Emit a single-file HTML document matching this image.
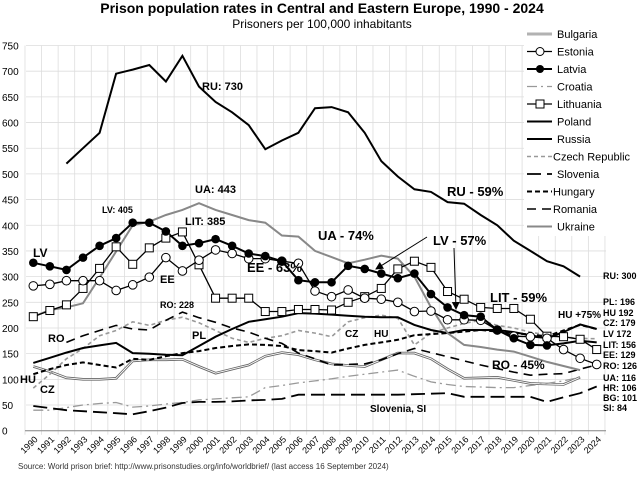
<!DOCTYPE html><html><head><meta charset="utf-8"><style>
body{margin:0;background:#fff;width:644px;height:474px;overflow:hidden}
svg{font-family:"Liberation Sans",Arial,sans-serif}
</style></head><body>
<svg id="s" width="644" height="474" xmlns="http://www.w3.org/2000/svg"></svg>
<script>
const s=document.getElementById('s');let h='';
const X=i=>33.3+i*16.57, Y=v=>430.7-v*0.5136;
h+=`<text x="322" y="13" font-size="14" font-weight="bold" text-anchor="middle">Prison population rates in Central and Eastern Europe, 1990 - 2024</text>`;
h+=`<text x="322" y="28" font-size="12" text-anchor="middle">Prisoners per 100,000 inhabitants</text>`;
for(let v=0;v<=750;v+=50){h+=`<line x1="26" x2="606" y1="${Y(v)}" y2="${Y(v)}" stroke="#ddd" stroke-width="0.8"/><text x="2" y="${Y(v)+4}" font-size="10">${v}</text>`;}
for(let i=0;i<=35;i++){h+=`<line x1="${25+i*16.57}" x2="${25+i*16.57}" y1="${Y(750)}" y2="${Y(0)+4}" stroke="#ddd" stroke-width="0.8"/>`;}
h+=`<line x1="25" x2="606" y1="${Y(0)}" y2="${Y(0)}" stroke="#888"/>`;
for(let i=0;i<35;i++){h+=`<text transform="translate(${X(i)+5},440) rotate(-45)" font-size="9" text-anchor="end">${1990+i}</text>`;}
const D={
ru:[null,null,520,550,580,695,703,712,680,730,670,640,620,595,548,565,580,628,630,620,580,525,495,470,465,445,442,420,400,370,350,330,320,300],
ua:[222,235,240,248,298,349,400,407,420,430,443,430,420,410,405,380,378,350,338,326,333,341,335,300,240,190,167,163,158,154,144,134,126,118],
lv:[327,320,313,337,360,375,405,405,388,360,365,373,360,345,340,330,293,289,289,321,315,306,297,306,266,240,225,222,196,180,167,166,170,175,172],
ee:[282,285,292,292,292,273,284,299,337,311,332,352,345,335,335,330,326,272,261,274,258,256,250,232,233,216,216,215,196,184,183,180,158,141,129],
lt:[222,234,245,277,316,358,324,356,375,387,323,258,258,258,232,232,236,236,235,250,261,277,315,330,318,271,256,240,238,238,217,184,183,178,158],
pl:[132,142,152,161,166,171,151,150,148,147,165,183,198,212,217,222,229,228,226,224,222,221,221,206,196,190,196,196,196,192,186,180,192,207,198],
hu:[110,120,128,133,128,123,140,138,145,151,155,161,165,168,167,165,157,155,152,160,167,172,177,186,188,190,193,196,193,190,187,184,195,206,198],
ro:[null,null,172,185,195,205,198,196,215,231,220,211,200,192,180,170,151,140,128,129,130,138,150,160,152,144,136,128,121,114,108,110,111,120,128],
cz:[83,110,140,160,185,195,212,205,215,221,210,195,180,172,180,185,195,190,183,212,220,225,219,167,190,200,209,215,205,200,192,186,182,180,179],
bg:[125,115,103,100,100,102,136,138,138,139,125,112,120,128,145,152,148,138,130,127,125,138,151,151,140,120,102,103,104,98,92,91,90,104],
hr:[40,40,45,50,53,55,46,48,52,55,60,62,64,66,84,88,93,97,101,106,110,114,118,106,95,90,86,85,84,84,88,92,97,104],
si:[48,44,40,38,36,34,32,38,45,54,56,56,57,59,60,62,70,70,70,70,70,70,70,71,72,73,66,66,66,66,66,56,65,73,86]};
const P=a=>{let d='',m=true;a.forEach((v,i)=>{if(v==null){m=true;return;}d+=(m?'M':'L')+X(i).toFixed(1)+','+Y(v).toFixed(1);m=false});return d;};
const st={ru:'stroke="#000" stroke-width="2"',ua:'stroke="#888" stroke-width="2"',pl:'stroke="#000" stroke-width="2"',
hu:'stroke="#000" stroke-width="2" stroke-dasharray="5,3"',ro:'stroke="#000" stroke-width="1.6" stroke-dasharray="9,6"',
cz:'stroke="#999" stroke-width="1.6" stroke-dasharray="4,3"',hr:'stroke="#999" stroke-width="1.3" stroke-dasharray="10,4,2,4"',
si:'stroke="#000" stroke-width="1.8" stroke-dasharray="14,6"',lv:'stroke="#000" stroke-width="2"',ee:'stroke="#000" stroke-width="1.3"',lt:'stroke="#000" stroke-width="1.3"'};
h+=`<path d="${P(D.bg)}" fill="none" stroke="#666" stroke-width="2.6"/><path d="${P(D.bg)}" fill="none" stroke="#fff" stroke-width="0.9"/>`;
['hr','si','cz','ro','hu','pl','ua','ru','lt','ee','lv'].forEach(k=>h+=`<path d="${P(D[k])}" fill="none" ${st[k]}/>`);
D.lt.forEach((v,i)=>{h+=`<rect x="${X(i)-4}" y="${Y(v)-4}" width="8" height="8" fill="#fff" stroke="#000"/>`});
D.ee.forEach((v,i)=>h+=`<circle cx="${X(i)}" cy="${Y(v)}" r="4.3" fill="#fff" stroke="#000"/>`);
D.lv.forEach((v,i)=>{if(i<32)h+=`<circle cx="${X(i)}" cy="${Y(v)}" r="4.3" fill="#000"/>`});
h+=`<rect x="524" y="26" width="82" height="210" fill="#fff"/>`;
const L=[['Bulgaria','bg'],['Estonia','ee'],['Latvia','lv'],['Croatia','hr'],['Lithuania','lt'],['Poland','pl'],['Russia','ru'],['Czech Republic','cz'],['Slovenia','si'],['Hungary','hu'],['Romania','ro'],['Ukraine','ua']];
L.forEach(([n,k],j)=>{const y=34+j*17.5;
 if(k=='bg')h+=`<line x1="527" x2="552" y1="${y}" y2="${y}" stroke="#666" stroke-width="2.6"/><line x1="527" x2="552" y1="${y}" y2="${y}" stroke="#fff" stroke-width="0.9"/>`;
 else h+=`<line x1="527" x2="552" y1="${y}" y2="${y}" ${st[k]}/>`;
 if(k=='ee')h+=`<circle cx="540" cy="${y}" r="4" fill="#fff" stroke="#000"/>`;
 if(k=='lv')h+=`<circle cx="540" cy="${y}" r="4" fill="#000"/>`;
 if(k=='lt')h+=`<rect x="536" y="${y-4}" width="8" height="8" fill="#fff" stroke="#000"/>`;
 h+=`<text x="${k=='cz'||k=='hu'||k=='ro'?553:557}" y="${y+4}" font-size="11">${n}</text>`;});
const T=(x,y,t,f=11)=>h+=`<text x="${x}" y="${y}" font-size="${f}" font-weight="bold">${t}</text>`;
T(202,90,'RU: 730');T(447,196,'RU - 59%',13);T(195,193,'UA: 443');T(318,240,'UA - 74%',13);T(433,245,'LV - 57%',13);
T(490,302,'LIT - 59%',13);T(102,213,'LV: 405',9);T(185,225,'LIT: 385');T(247,272,'EE - 63%',13);T(160,283,'EE');T(33,257,'LV',12);
T(160,308,'RO: 228',9);T(48,342,'RO',11);T(192,339,'PL');T(345,337,'CZ',10);T(374,337,'HU',10);T(492,369,'RO - 45%',12);
T(558,318,'HU +75%',10);T(20,383,'HU',11);T(40,393,'CZ',11);T(370,412,'Slovenia, SI',10);T(603,279,'RU: 300',9);
[['PL: 196',305],['HU 192',316],['CZ: 179',326],['LV 172',337],['LIT: 156',348],['EE: 129',358],['RO: 126',369],['UA: 116',381],['HR: 106',391],['BG: 101',401],['SI: 84',411]].forEach(([t,y])=>T(603,y,t,9));
h+=`<defs><marker id="a" markerWidth="8" markerHeight="8" refX="7" refY="4" orient="auto"><path d="M0,0L8,4L0,8z"/></marker></defs>`;
h+=`<line x1="427" y1="237" x2="376" y2="269" stroke="#000" marker-end="url(#a)"/><line x1="454" y1="248" x2="456" y2="309" stroke="#000" marker-end="url(#a)"/>`;
h+=`<text x="18" y="469" font-size="8" fill="#333">Source: World prison brief: http://www.prisonstudies.org/info/worldbrief/  (last access 16 September 2024)</text>`;
s.innerHTML=h;
</script></body></html>
